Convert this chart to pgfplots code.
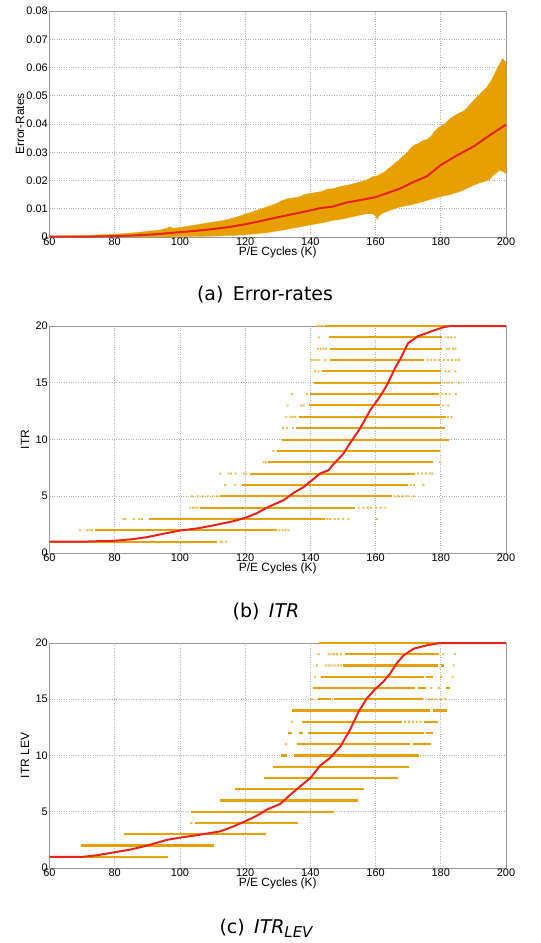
\documentclass[border=0pt]{standalone}
\usepackage{pgfplots}
\pgfplotsset{compat=1.18}
\usepackage{fontspec}
\setmainfont{Liberation Sans}
\newfontfamily\capfont{DejaVu Sans}
\definecolor{bandor}{RGB}{230,160,0}
\definecolor{meanred}{RGB}{232,36,26}
\pgfplotsset{
 myax/.style={
  scale only axis, width=456.5bp, xmin=60, xmax=200,
  xtick={60,80,...,200}, grid=major,
  grid style={dotted, black!30, line width=0.6pt},
  axis line style={black!40},
  major tick length=0pt,
  scaled y ticks=false,
  tick label style={font=\fontsize{11}{12}\selectfont},
  /pgf/number format/assume math mode=true,
  xticklabel style={inner sep=0.5bp},
  yticklabel style={inner sep=1.5bp},
  xlabel={P/E Cycles (K)},
  xlabel style={at={(axis description cs:0.5,0)}, anchor=north, inner sep=0pt, yshift=-10bp, font=\fontsize{12}{13}\selectfont},
  ylabel style={anchor=center, font=\fontsize{12}{13}\selectfont},
  clip=false,
  unbounded coords=jump,
 },
 lev/.style={draw=bandor, line width=2bp},
 out/.style={only marks, mark=x, mark size=1.2bp, color=bandor!85, mark options={line width=0.6pt}},
 mean/.style={draw=meanred, line width=2bp, line join=round},
}
\begin{document}
\begin{tikzpicture}
\useasboundingbox (0,0) rectangle (541bp,-943bp);
% ---------------- (a)
\begin{axis}[myax, at={(49.5bp,-11bp)}, anchor=north west, height=226bp,
  ymin=0, ymax=0.08, ytick={0,0.01,...,0.08},
  yticklabels={0,0.01,0.02,0.03,0.04,0.05,0.06,0.07,0.08},
  ylabel={Error-Rates}, ylabel style={at={(axis description cs:-0.0646,0.5)}}]
\addplot[fill=bandor, draw=bandor, line width=0.3pt] coordinates {
(60,0.0003)(70,0.0005)(80,0.0010)(85,0.0014)(90,0.0020)(94,0.0025)(96,0.0031)(97,0.0036)(98,0.0030)(100,0.0034)(104,0.0041)(108,0.0049)(112,0.0056)(115,0.0063)(118,0.0073)(120,0.0081)(122,0.0088)(124,0.0096)(126,0.0104)(128,0.0112)(130,0.0120)(131,0.0128)(132,0.0131)(133,0.0136)(135,0.0139)(137,0.0143)(138,0.0150)(140,0.0154)(142,0.0158)(144,0.0163)(145,0.0169)(147,0.0171)(149,0.0178)(150,0.0181)(152,0.0185)(154,0.0191)(156,0.0197)(158,0.0206)(159,0.0213)(160,0.0215)(161,0.0219)(162,0.0226)(163,0.0232)(164,0.0243)(165,0.0251)(166,0.0262)(167,0.0270)(168,0.0282)(169,0.0292)(170,0.0303)(171,0.0317)(172,0.0326)(173,0.0330)(174,0.0337)(175,0.0343)(176,0.0346)(177,0.0356)(178,0.0372)(179,0.0384)(180,0.0393)(181,0.0398)(182,0.0410)(183,0.0420)(184,0.0428)(185,0.0435)(186,0.0440)(187,0.0446)(188,0.0456)(189,0.0470)(190,0.0482)(191,0.0494)(192,0.0505)(193,0.0518)(194,0.0528)(195,0.0545)(196,0.0565)(197,0.0590)(198,0.0612)(199,0.0632)(199.5,0.0625)(200,0.0618)
(200,0.0225)(199,0.0232)(198,0.0236)(197,0.0226)(196,0.0218)(195,0.0203)(194,0.0199)(192,0.0192)(190,0.0183)(188,0.0172)(186,0.0162)(184,0.0154)(182,0.0148)(180,0.0143)(178,0.0137)(176,0.0130)(174,0.0124)(172,0.0117)(170,0.0112)(168,0.0108)(166,0.0101)(164,0.0093)(163,0.0088)(162,0.0083)(161,0.0075)(160.5,0.0062)(160,0.0075)(159,0.0082)(157,0.0082)(155,0.0077)(152,0.0069)(150,0.0064)(147,0.0059)(144,0.0051)(142,0.0047)(139,0.0041)(137,0.0036)(134,0.0030)(132,0.0025)(129,0.0020)(127,0.0016)(124,0.0012)(120,0.0008)(115,0.0005)(110,0.0003)(100,0.0001)(80,0)(60,0)
} -- cycle;
\addplot[mean] coordinates {
(60,0.0001)(70,0.0001)(80,0.0003)(85,0.0005)(90,0.0008)(95,0.0012)(100,0.0017)(105,0.0022)(110,0.0028)(115,0.0035)(120,0.0045)(125,0.0057)(130,0.0070)(135,0.0082)(140,0.0094)(143,0.0102)(147,0.0108)(151,0.0122)(155,0.0130)(160,0.0141)(163.5,0.0155)(167.6,0.0172)(171.7,0.0195)(175.8,0.0215)(180,0.0255)(185,0.0289)(190,0.0320)(195,0.0360)(200,0.0398)};
\end{axis}
% ---------------- (b)
\begin{axis}[myax, at={(49.5bp,-326bp)}, anchor=north west, height=227bp,
  ymin=0, ymax=20, ytick={0,5,10,15,20},
  ylabel={ITR}, ylabel style={at={(axis description cs:-0.0537,0.5)}}]
\addplot[lev] coordinates {
(60,1)(111.5,1) (nan,nan)
(74,2)(129.7,2) (nan,nan)
(90.4,3)(144.5,3) (nan,nan)
(106.2,4)(153.8,4) (nan,nan)
(112.4,5)(165,5) (nan,nan)
(119,6)(170,6) (nan,nan)
(121.5,7)(172,7) (nan,nan)
(127,8)(177.6,8) (nan,nan)
(129.8,9)(179.8,9) (nan,nan)
(131.3,10)(182.4,10) (nan,nan)
(135.5,11)(181.4,11) (nan,nan)
(136.5,12)(181.5,12) (nan,nan)
(139.5,13)(179.8,13) (nan,nan)
(140,14)(179.3,14) (nan,nan)
(141,15)(180,15) (nan,nan)
(143.5,16)(180,16) (nan,nan)
(146,17)(175,17) (nan,nan)
(146,18)(180.5,18) (nan,nan)
(145.6,19)(180.5,19) (nan,nan)
(144.5,20)(200,20)};
\addplot[out] coordinates {
(112.4,1)(113,1)(114.2,1)
(69.4,2)(71.5,2)(72.3,2)(73.1,2)(130.5,2)(131.5,2)(132.4,2)(133.3,2)
(82.7,3)(83.3,3)(85.8,3)(87.5,3)(88.4,3)(145.2,3)(146,3)(147.6,3)(148.6,3)(150,3)(151.7,3)(160.4,3)
(103.2,4)(104,4)(104.8,4)(105.5,4)(154.8,4)(156.3,4)(157.6,4)(158.6,4)(160.2,4)(161.6,4)(163,4)
(103.7,5)(105.6,5)(107,5)(108.5,5)(110,5)(111.3,5)(165.8,5)(167,5)(168.3,5)(169.4,5)(170.1,5)(171.7,5)
(113.9,6)(117,6)(170.8,6)(171.8,6)(174.7,6)
(112.4,7)(114.9,7)(115.7,7)(117,7)(119.6,7)(120.4,7)(173,7)(174.2,7)(175.5,7)(176.6,7)(177.4,7)
(125.7,8)(126.4,8)(179.8,8)
(128.5,9)
(131.6,11)(132.8,11)(134.7,11)
(132.6,12)(133.9,12)(134.6,12)(135.4,12)(182.2,12)(183.3,12)
(133,13)(137.2,13)(137.9,13)(180.8,13)(182.3,13)
(134.3,14)(139,14)(180.5,14)(181.6,14)(182.7,14)(184.6,14)
(181.2,15)(182.2,15)(183.5,15)(185.6,15)
(141.5,16)(142.5,16)(181.5,16)(182.6,16)(184.5,16)
(140.4,17)(141.2,17)(142,17)(142.8,17)(144.6,17)(176,17)(177,17)(178.2,17)(179.5,17)(181,17)(182.2,17)(183.4,17)(184.6,17)(185.6,17)
(142.4,18)(143.2,18)(144,18)(144.8,18)(181.8,18)(182.6,18)(183.8,18)(184.5,18)
(142.7,19)(181.5,19)(182.3,19)(183.2,19)(184.4,19)
(142,20)(142.8,20)(143.6,20)};
\addplot[mean] coordinates {
(60,1.0)(70,1.0)(80,1.08)(85,1.2)(90,1.4)(95,1.7)(100,1.98)(105,2.15)(110,2.42)(116.4,2.8)(120,3.1)(123.5,3.5)(126.7,4.0)(129,4.3)(131.8,4.65)(134.9,5.3)(137.9,5.8)(140,6.3)(143,7.0)(145.6,7.3)(147,7.8)(150,8.7)(152,9.6)(155.3,11.0)(158.4,12.6)(161.4,13.8)(163.5,14.8)(165,15.7)(166,16.3)(167.6,17.1)(170,18.5)(173,19.1)(176.8,19.5)(180.9,19.9)(183,20)(200,20)};
\end{axis}
% ---------------- (c)
\begin{axis}[myax, at={(49.5bp,-643bp)}, anchor=north west, height=225bp,
  ymin=0, ymax=20, ytick={0,5,10,15,20},
  ylabel={ITR LEV}, ylabel style={at={(axis description cs:-0.0537,0.5)}}]
\addplot[lev, line width=2.2bp] coordinates {
(60,1)(96.2,1) (nan,nan)
(69.6,2)(110.6,2) (nan,nan)
(82.7,3)(126.5,3) (nan,nan)
(104.7,4)(136.1,4) (nan,nan)
(103.5,5)(147.4,5) (nan,nan)
(112.2,6)(154.5,6) (nan,nan)
(117,7)(156.5,7) (nan,nan)
(125.7,8)(167,8) (nan,nan)
(128.4,9)(170.4,9) (nan,nan)
(131,10)(132.8,10) (nan,nan)
(134.9,10)(173.2,10) (nan,nan)
(135.9,11)(170.6,11) (nan,nan)
(171.4,11)(177.1,11) (nan,nan)
(133,12)(134.3,12) (nan,nan)
(136.6,12)(137.7,12) (nan,nan)
(139.3,12)(175,12) (nan,nan)
(175.5,12)(177.6,12) (nan,nan)
(137.4,13)(168.2,13) (nan,nan)
(174.7,13)(179.1,13) (nan,nan)
(134.3,14)(176.6,14) (nan,nan)
(177.6,14)(181.9,14) (nan,nan)
(142.3,15)(146.4,15) (nan,nan)
(147.2,15)(174.4,15) (nan,nan)
(140.8,16)(172.2,16) (nan,nan)
(173,16)(175.6,16) (nan,nan)
(181.6,16)(182.8,16) (nan,nan)
(143.3,17)(174.7,17) (nan,nan)
(175.6,17)(177.6,17) (nan,nan)
(149.9,18)(179.1,18) (nan,nan)
(180.1,18)(180.9,18) (nan,nan)
(150.6,19)(179.6,19) (nan,nan)
(142.8,20)(200,20)};
\addplot[out, mark size=1.3bp] coordinates {
(103.5,4)
(132.6,11)
(134.3,13)(169,13)(170.3,13)(171.5,13)(172.7,13)(173.8,13)
(140.5,15)(176.3,15)(177.3,15)(178.4,15)(180.1,15)(181.3,15)
(177.1,16)(179.4,16)
(141.5,17)(180.1,17)(183.6,17)
(142,18)(144.7,18)(145.6,18)(146.5,18)(147.4,18)(148.5,18)(149.4,18)(183.9,18)
(142.5,19)(145.6,19)(146.5,19)(147.3,19)(148.2,19)(149.4,19)(180.6,19)(184.3,19)};
\addplot[mean] coordinates {
(60,1.0)(70.4,1.0)(74.5,1.13)(80,1.4)(84.7,1.63)(90,2.0)(96,2.5)(100,2.7)(106.2,2.96)(112.4,3.26)(116.4,3.7)(120,4.15)(123.6,4.65)(126.7,5.2)(130.8,5.7)(133.8,6.5)(136.9,7.26)(140,8.0)(143,9.1)(146.1,9.8)(149.2,10.8)(152.2,12.3)(154.8,13.9)(157.4,15.1)(159.9,15.9)(162.5,16.6)(164.5,17.3)(166.5,18.2)(168.6,18.9)(171.7,19.5)(175.8,19.8)(179.8,20)(200,20)};
\end{axis}
% captions
\node[font=\capfont\fontsize{19}{21}\selectfont] at (265bp,-295bp) {(a)\hspace{0.5em}Error-rates};
\node[font=\capfont\fontsize{19}{21}\selectfont] at (266bp,-612bp) {(b)\hspace{0.5em}\textit{ITR}};
\node[font=\capfont\fontsize{19}{21}\selectfont] at (266bp,-928bp) {(c)\hspace{0.5em}\textit{ITR\raisebox{-0.35ex}{\fontsize{15}{16}\selectfont LEV}}};
\end{tikzpicture}
\end{document}
